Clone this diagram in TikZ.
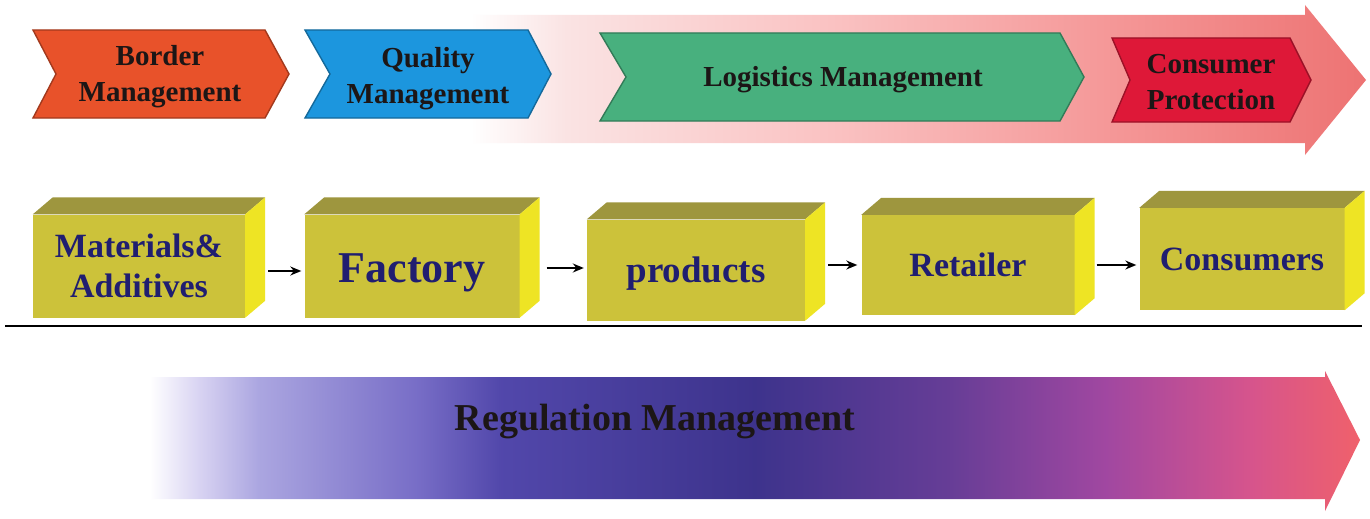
\documentclass[tikz,border=0pt]{standalone}
\usepackage{fontspec}
\setmainfont{Liberation Serif}
\usepackage{xcolor}
\usetikzlibrary{arrows.meta}

\definecolor{bordercol}{RGB}{232,82,42}
\definecolor{qualitycol}{RGB}{28,150,222}
\definecolor{logisticscol}{RGB}{72,176,126}
\definecolor{consumercol}{RGB}{222,24,56}
\definecolor{boxfront}{RGB}{204,194,58}
\definecolor{boxtop}{RGB}{158,150,62}
\definecolor{boxside}{RGB}{238,228,36}
\definecolor{navytext}{RGB}{32,30,112}
\definecolor{darktext}{RGB}{28,22,22}

% tikz fits the middle half (25bp--75bp) of a shading to the path
\pgfdeclarehorizontalshading{pinkfade}{100bp}{rgb(0bp)=(1,1,1); rgb(33bp)=(1,1,1);
  rgb(37.5bp)=(0.98,0.89,0.89); rgb(50bp)=(0.98,0.76,0.76); rgb(62.5bp)=(0.96,0.6,0.6);
  rgb(75bp)=(0.93,0.45,0.45); rgb(100bp)=(0.93,0.45,0.45)}
\pgfdeclarehorizontalshading{regfade}{100bp}{rgb(0bp)=(1,1,1); rgb(25bp)=(1,1,1);
  rgb(27bp)=(0.85,0.83,0.95); rgb(29.5bp)=(0.67,0.65,0.88); rgb(36bp)=(0.47,0.43,0.78);
  rgb(39.5bp)=(0.32,0.28,0.67); rgb(50bp)=(0.24,0.2,0.55); rgb(58bp)=(0.4,0.24,0.59);
  rgb(64.5bp)=(0.63,0.28,0.63); rgb(70.5bp)=(0.84,0.33,0.55); rgb(75bp)=(0.94,0.38,0.42);
  rgb(100bp)=(0.94,0.38,0.42)}

\tikzset{
  chevtext/.style={text=darktext, align=center, font=\fontsize{29}{36}\selectfont\bfseries},
  chev/.style={line width=1.4pt, draw=#1!70!black, fill=#1},
  crate/.style={fill=boxfront, text=navytext, align=center, inner sep=0pt,
    font=\fontsize{34}{40}\selectfont\bfseries},
  flow/.style={line width=1.6pt,-{Stealth[length=11pt,width=9pt]}}
}

% top and right faces of a crate
\newcommand{\cratesides}[1]{%
  \fill[boxtop] (#1.north west) -- ([shift={(20,-17)}]#1.north west)
    -- ([shift={(20,-17)}]#1.north east) -- (#1.north east) -- cycle;
  \fill[boxside] (#1.north east) -- ([shift={(20,-17)}]#1.north east)
    -- ([shift={(20,-17)}]#1.south east) -- (#1.south east) -- cycle;
}

\begin{document}
\begin{tikzpicture}[x=1pt,y=-1pt]
\fill[white] (0,0) rectangle (1370,519);
\useasboundingbox (0,0) rectangle (1370,519);

% big arrows
\shade[shading=pinkfade] (300,15) -- (1305,15) -- (1305,5) -- (1366,80)
  -- (1305,155) -- (1305,143) -- (300,143) -- cycle;
\shade[shading=regfade] (150,377) -- (1325,377) -- (1325,371) -- (1360,440)
  -- (1325,511) -- (1325,499) -- (150,499) -- cycle;

% chevrons
\filldraw[chev=bordercol] (33,30) -- (265,30) -- (289,74)
  -- (265,118) -- (33,118) -- (56,74) -- cycle;
\filldraw[chev=qualitycol] (305,30) -- (528,30) -- (551,74)
  -- (528,118) -- (305,118) -- (330,74) -- cycle;
\filldraw[chev=logisticscol] (600,33) -- (1060,33) -- (1084,77)
  -- (1060,121) -- (600,121) -- (626,77) -- cycle;
\filldraw[chev=consumercol] (1112,38) -- (1290,38) -- (1311,80)
  -- (1290,122) -- (1112,122) -- (1130,80) -- cycle;

\node[chevtext] (border) at (160,77) {Border\\Management};
\node[chevtext] (quality) at (428,79) {Quality\\Management};
\node[chevtext] (logistics) at (843,80) {Logistics Management};
\node[chevtext] (protect) at (1211,82) {Consumer\\Protection};

% supply chain
\node[crate, minimum width=212pt, minimum height=103pt] (mat) at (139,266) {Materials\&\\Additives};
\node[crate, minimum width=215pt, minimum height=103pt, text height=42pt,
  font=\fontsize{44}{48}\selectfont\bfseries] (fac) at (412,266) {Factory};
\node[crate, minimum width=218pt, minimum height=101pt, text height=33pt,
  font=\fontsize{37}{40}\selectfont\bfseries] (prod) at (696,270) {products};
\node[crate, minimum width=213pt, minimum height=100pt] (ret) at (968,265) {Retailer};
\node[crate, minimum width=205pt, minimum height=102pt] (cons) at (1242,259) {Consumers};
\cratesides{mat}
\cratesides{fac}
\cratesides{prod}
\cratesides{ret}
\cratesides{cons}

\draw[flow] ([xshift=23pt,yshift=-5pt]mat.east) -- ([xshift=-3pt,yshift=-5pt]fac.west);
\draw[flow] ([xshift=27pt,yshift=-2pt]fac.east) -- ([xshift=-3pt,yshift=-2pt]prod.west |- fac.east);
\draw[flow] ([xshift=23pt,yshift=5pt]prod.east) -- ([xshift=-4pt]ret.west);
\draw[flow] ([xshift=22pt]ret.east) -- ([xshift=-3pt]cons.west |- ret.east);

\draw[line width=1.5pt] (5,326) -- (1362,326);

\node[font=\fontsize{38}{42}\selectfont\bfseries, text=darktext] (reg) at (655,422) {Regulation Management};
\end{tikzpicture}
\end{document}
